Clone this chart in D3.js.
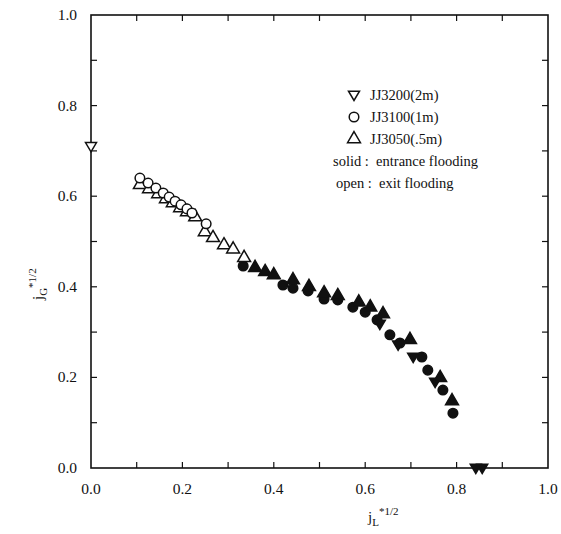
<!DOCTYPE html>
<html>
<head>
<meta charset="utf-8">
<script src="https://cdn.jsdelivr.net/npm/d3@7"></script>
<style>
  body { margin: 0; background: #fff; }
  svg text { font-family: "Liberation Serif", "DejaVu Serif", serif; fill: #111; }
</style>
</head>
<body>
<script>
// data (jL*1/2, jG*1/2)
const openDown = [[0.0, 0.71]];
const openCircle = [
  [0.107, 0.640], [0.125, 0.629], [0.142, 0.618], [0.158, 0.607], [0.171, 0.598],
  [0.184, 0.589], [0.197, 0.581], [0.210, 0.572], [0.221, 0.563], [0.252, 0.539]
];
const openUp = [
  [0.107, 0.625], [0.127, 0.616], [0.147, 0.605], [0.164, 0.594], [0.179, 0.585],
  [0.195, 0.574], [0.210, 0.565], [0.228, 0.554], [0.249, 0.521], [0.267, 0.508],
  [0.291, 0.492], [0.311, 0.483], [0.335, 0.464]
];
const solidUp = [
  [0.359, 0.442], [0.381, 0.433], [0.400, 0.426], [0.442, 0.415], [0.477, 0.400],
  [0.510, 0.386], [0.540, 0.380], [0.586, 0.366], [0.611, 0.355], [0.639, 0.340],
  [0.698, 0.283], [0.764, 0.199], [0.790, 0.148]
];
const solidCircle = [
  [0.333, 0.446], [0.420, 0.404], [0.442, 0.397], [0.475, 0.391], [0.510, 0.373],
  [0.540, 0.371], [0.573, 0.355], [0.600, 0.344], [0.626, 0.327], [0.654, 0.294],
  [0.676, 0.276], [0.724, 0.245], [0.737, 0.216], [0.770, 0.172], [0.792, 0.121]
];
const solidDown = [
  [0.632, 0.318], [0.672, 0.272], [0.705, 0.245], [0.753, 0.190], [0.842, 0.0], [0.856, 0.0]
];
const tickLabels = [0, 0.2, 0.4, 0.6, 0.8, 1.0];
const legendNames = ["JJ3200(2m)", "JJ3100(1m)", "JJ3050(.5m)"];
const legendNotes = ["solid :  entrance flooding", "open :  exit flooding"];

const width = 561, height = 534;
const margin = { top: 15, right: 13, bottom: 66, left: 91 };

const svg = d3.select("body").append("svg")
  .attr("width", width)
  .attr("height", height);

const x = d3.scaleLinear().domain([0, 1]).range([margin.left, width - margin.right]);
const y = d3.scaleLinear().domain([0, 1]).range([height - margin.bottom, margin.top]);

// frame
svg.append("rect")
  .attr("x", x(0)).attr("y", y(1))
  .attr("width", x(1) - x(0)).attr("height", y(0) - y(1))
  .attr("fill", "none").attr("stroke", "#111").attr("stroke-width", 1.6);

// inward ticks, all four sides
const minor = d3.range(0.1, 1, 0.1);
const g = svg.append("g").attr("stroke", "#111").attr("stroke-width", 1.2);
minor.forEach(v => {
  g.append("line").attr("x1", x(v)).attr("x2", x(v)).attr("y1", y(0)).attr("y2", y(0) - 6);
  g.append("line").attr("x1", x(v)).attr("x2", x(v)).attr("y1", y(1)).attr("y2", y(1) + 6);
  g.append("line").attr("y1", y(v)).attr("y2", y(v)).attr("x1", x(0)).attr("x2", x(0) + 6);
  g.append("line").attr("y1", y(v)).attr("y2", y(v)).attr("x1", x(1)).attr("x2", x(1) - 6);
});

const fmt = d3.format(".1f");
svg.selectAll(".xt").data(tickLabels).enter().append("text")
  .attr("x", d => x(d)).attr("y", y(0) + 26)
  .attr("text-anchor", "middle").style("font-size", "15.5px")
  .text(fmt);
svg.selectAll(".yt").data(tickLabels).enter().append("text")
  .attr("x", x(0) - 14).attr("y", d => y(d) + 5)
  .attr("text-anchor", "end").style("font-size", "15.5px")
  .text(fmt);

// axis titles
const xl = svg.append("text")
  .attr("x", 368).attr("y", 522).style("font-size", "15px");
xl.append("tspan").text("j");
xl.append("tspan").attr("dy", 4).style("font-size", "11px").text("L");
xl.append("tspan").attr("dy", -11).style("font-size", "11px").text("*1/2");

const yl = svg.append("text")
  .attr("transform", "translate(43,300) rotate(-90)")
  .style("font-size", "15px");
yl.append("tspan").text("j");
yl.append("tspan").attr("dy", 4).style("font-size", "11px").text("G");
yl.append("tspan").attr("dy", -11).style("font-size", "11px").text("*1/2");

// markers
const triUp = d3.symbol().type(d3.symbolTriangle).size(72);
const triDown = "M-5.5,-3.8L5.5,-3.8L0,5.5Z";
const circ = d3.symbol().type(d3.symbolCircle).size(72);

function drawSeries(data, path, filled) {
  svg.append("g").selectAll("path").data(data).enter().append("path")
    .attr("d", path)
    .attr("transform", d => `translate(${x(d[0])},${y(d[1])})`)
    .attr("fill", filled ? "#111" : "#fff")
    .attr("stroke", "#111")
    .attr("stroke-width", 1.5);
}

drawSeries(solidCircle, circ(), true);
drawSeries(solidDown, triDown, true);
drawSeries(solidUp, triUp(), true);
drawSeries(openUp, triUp(), false);
drawSeries(openCircle, circ(), false);
drawSeries(openDown, triDown, false);

// legend
const legShapes = [triDown, circ(), triUp()];
legendNames.forEach((name, i) => {
  const ly = 95 + i * 22;
  svg.append("path").attr("d", legShapes[i])
    .attr("transform", `translate(354,${ly})`)
    .attr("fill", "#fff").attr("stroke", "#111").attr("stroke-width", 1.5);
  svg.append("text").attr("x", 370).attr("y", ly + 5)
    .style("font-size", "14.5px").text(name);
});
legendNotes.forEach((t, i) => {
  svg.append("text").attr("x", i === 0 ? 333 : 336).attr("y", 166 + i * 22)
    .style("font-size", "14.5px")
    .attr("xml:space", "preserve").text(t);
});
</script>
</body>
</html>
